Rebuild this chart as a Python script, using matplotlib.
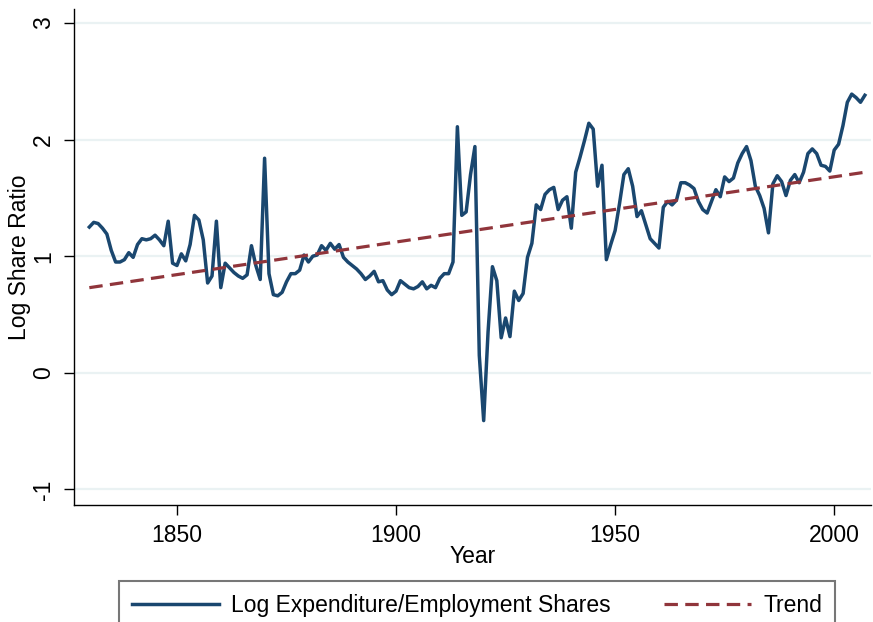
import matplotlib
matplotlib.use("Agg")
import matplotlib.pyplot as plt
import numpy as np

plt.rcParams['font.family'] = ['Liberation Sans', 'DejaVu Sans']

years = list(range(1830, 2008))
log_share_ratio = [
    1.25, 1.29, 1.28, 1.24, 1.19, 1.05, 0.95, 0.95, 0.97, 1.03,   # 1830-1839
    0.99, 1.10, 1.15, 1.14, 1.15, 1.18, 1.14, 1.09, 1.30, 0.94,   # 1840-1849
    0.92, 1.02, 0.96, 1.10, 1.35, 1.31, 1.14, 0.77, 0.83, 1.30,   # 1850-1859
    0.73, 0.94, 0.90, 0.86, 0.83, 0.81, 0.84, 1.09, 0.92, 0.80,   # 1860-1869
    1.84, 0.85, 0.67, 0.66, 0.69, 0.78, 0.85, 0.85, 0.88, 1.01,   # 1870-1879
    0.95, 1.00, 1.01, 1.09, 1.05, 1.11, 1.06, 1.10, 0.99, 0.95,   # 1880-1889
    0.92, 0.89, 0.85, 0.80, 0.83, 0.87, 0.78, 0.79, 0.71, 0.67,   # 1890-1899
    0.70, 0.79, 0.76, 0.73, 0.72, 0.74, 0.78, 0.72, 0.75, 0.73,   # 1900-1909
    0.81, 0.85, 0.85, 0.95, 2.11, 1.35, 1.38, 1.70, 1.94, 0.15,   # 1910-1919
    -0.41, 0.35, 0.91, 0.79, 0.30, 0.47, 0.31, 0.70, 0.62, 0.68,  # 1920-1929
    0.99, 1.11, 1.44, 1.40, 1.53, 1.57, 1.59, 1.40, 1.48, 1.51,   # 1930-1939
    1.24, 1.72, 1.85, 1.99, 2.14, 2.09, 1.60, 1.78, 0.97, 1.10,   # 1940-1949
    1.22, 1.45, 1.70, 1.75, 1.60, 1.34, 1.39, 1.27, 1.15, 1.11,   # 1950-1959
    1.07, 1.42, 1.47, 1.44, 1.48, 1.63, 1.63, 1.61, 1.58, 1.47,   # 1960-1969
    1.40, 1.37, 1.47, 1.57, 1.51, 1.68, 1.64, 1.67, 1.80, 1.88,   # 1970-1979
    1.94, 1.82, 1.60, 1.52, 1.41, 1.20, 1.62, 1.69, 1.64, 1.52,   # 1980-1989
    1.65, 1.70, 1.63, 1.72, 1.88, 1.92, 1.88, 1.78, 1.77, 1.73,   # 1990-1999
    1.91, 1.96, 2.12, 2.32, 2.39, 2.36, 2.32, 2.38,               # 2000-2007
]
trend_years = [1830, 2007]
trend_values = [0.73, 1.72]

y_ticks = [-1, 0, 1, 2, 3]
x_ticks = [1850, 1900, 1950, 2000]

W, H = 873, 622
fig = plt.figure(figsize=(W / 100, H / 100), dpi=100)
ax = fig.add_axes([74 / W, 1 - 505 / H, (871 - 74) / W, (505 - 9) / H])

navy = '#1a476f'
maroon = '#90353b'

ax.plot(years, log_share_ratio, color=navy, lw=2.5, solid_joinstyle='round',
        label='Log Expenditure/Employment Shares', zorder=3)
ax.plot(trend_years, trend_values, color=maroon, lw=2.3,
        linestyle=(0, (4.2, 2.3)), label='Trend', zorder=4)

ax.set_xlim(1826.5, 2008.4)
ax.set_ylim(-1.134, 3.12)
ax.set_xticks(x_ticks)
ax.set_yticks(y_ticks)
ax.set_yticklabels([str(v) for v in y_ticks], rotation=90, va='center')
for v in y_ticks:
    ax.axhline(v, color='#eaf2f3', lw=1.6, zorder=1)

for s in ['top', 'right']:
    ax.spines[s].set_visible(False)
for s in ['left', 'bottom']:
    ax.spines[s].set_color('black')
    ax.spines[s].set_linewidth(1.0)

fs = 16.5
ax.tick_params(axis='both', direction='out', length=7.5, width=1.0,
               labelsize=fs, pad=6, colors='black')
ax.set_xlabel('Year', fontsize=fs, labelpad=-1)
ax.set_ylabel('Log Share Ratio', fontsize=fs)
ax.yaxis.set_label_coords((31 - 74) / (871 - 74), 0.5)

leg = fig.legend(loc='upper left',
                 bbox_to_anchor=(119 / W, 1 - 581 / H, (835 - 119) / W, 0.0),
                 mode='expand', ncol=2, fontsize=fs, frameon=True,
                 fancybox=False, edgecolor='#555555', handlelength=3.8,
                 handletextpad=0.55, borderpad=0.55, borderaxespad=0.0)
leg.get_frame().set_linewidth(1.5)

fig.savefig('out.png', dpi=100)
